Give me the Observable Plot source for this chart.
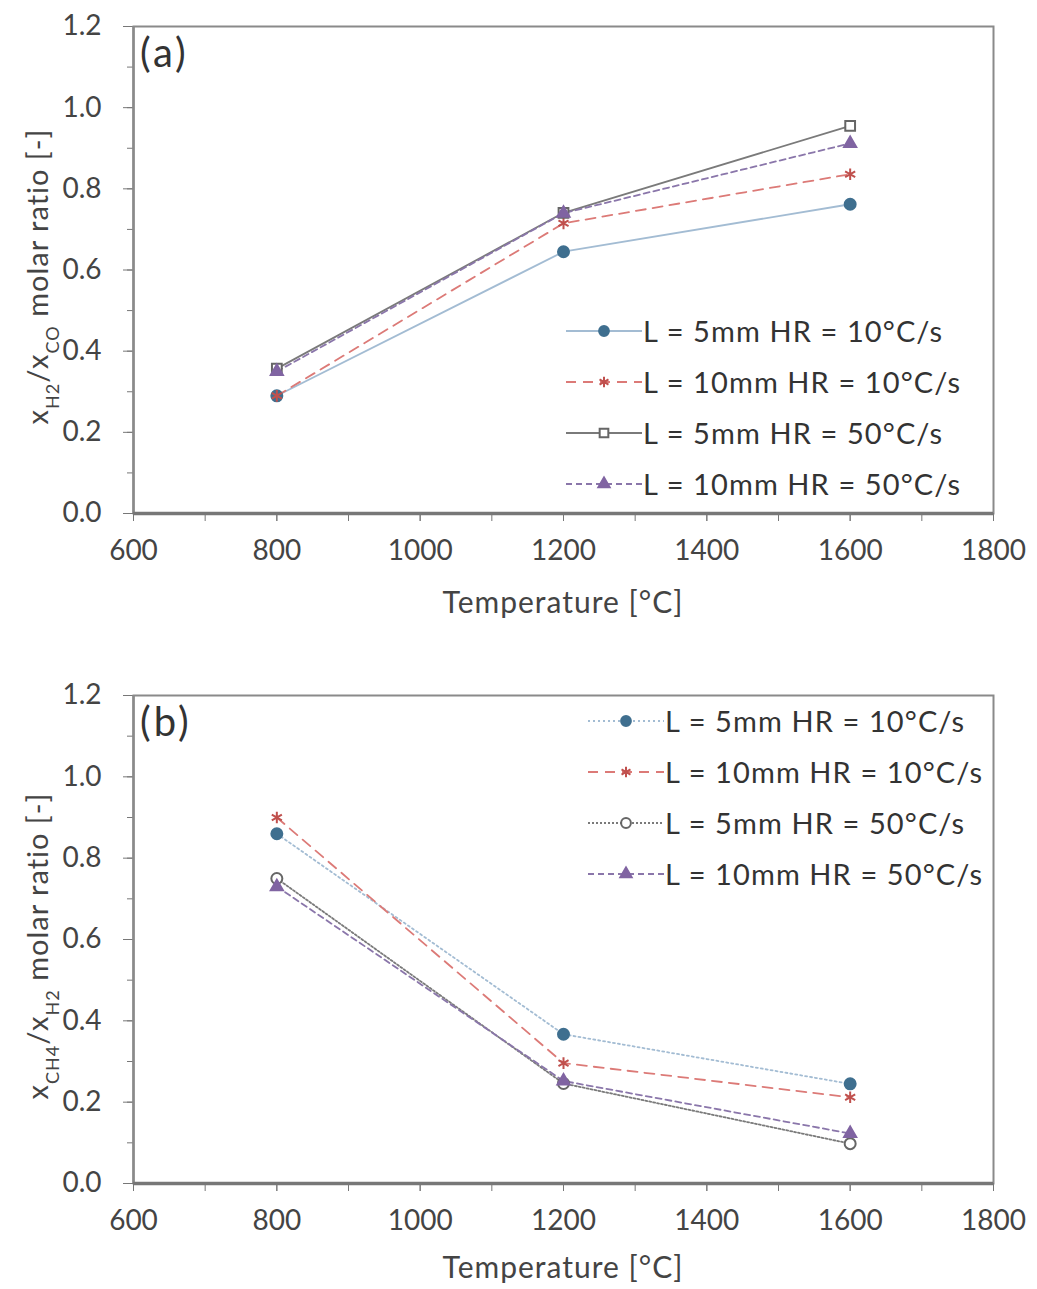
<!DOCTYPE html>
<html><head><meta charset="utf-8">
<script src="https://cdn.jsdelivr.net/npm/d3@7"></script>
<script src="https://cdn.jsdelivr.net/npm/@observablehq/plot@0.6"></script>
<style>
body{margin:0;background:#fff;font-family:Lato,"Open Sans",sans-serif;}
.panel{position:relative;width:1037px;}
.legend{position:absolute;font-size:29px;letter-spacing:1.1px;color:#333;}
.legend .row{display:flex;align-items:center;height:51px;white-space:nowrap;}
.legend svg{display:block;}
.plabel{position:absolute;font-size:40px;letter-spacing:3px;color:#333;}
</style></head>
<body><div id="root"></div>
<script>
// ---- data ----
const temperatures = [800, 1200, 1600];
const seriesNames = ["L = 5mm HR = 10°C/s", "L = 10mm HR = 10°C/s", "L = 5mm HR = 50°C/s", "L = 10mm HR = 50°C/s"];
// panel (a): xH2/xCO
const a_5mm_10 = [0.29, 0.645, 0.762];
const a_10mm_10 = [0.29, 0.715, 0.836];
const a_5mm_50 = [0.357, 0.741, 0.955];
const a_10mm_50 = [0.35, 0.74, 0.912];
// panel (b): xCH4/xH2
const b_5mm_10 = [0.86, 0.367, 0.245];
const b_10mm_10 = [0.90, 0.296, 0.212];
const b_5mm_50 = [0.75, 0.246, 0.098];
const b_10mm_50 = [0.73, 0.252, 0.123];
const xTicks = [600, 800, 1000, 1200, 1400, 1600, 1800];
const yTicks = [0.0, 0.2, 0.4, 0.6, 0.8, 1.0, 1.2];

const markerColors = ["#3f6f8f", "#c0504d", "#666666", "#8064a2"];
const lineColors = ["#a3bcd3", "#dc7a77", "#7a7a7a", "#8a76aa"];

function panel(opts){
  const {values, styles, symbols, fills, height, mTop, mBottom, ylabelParts, tag, legendPos, xlabelY} = opts;
  const div = document.createElement("div");
  div.className = "panel";
  div.style.height = height + "px";
  const marks = [];
  const xMinor = d3.range(600, 1801, 100);
  const yMinor = d3.range(0, 13).map(i => +(i * 0.1).toFixed(1));
  marks.push(Plot.frame({stroke: "#8a8a8a", strokeWidth: 2}));
  marks.push(Plot.axisX({ticks: xMinor, tickSize: 8, tickFormat: () => "", stroke: "#777"}));
  marks.push(Plot.axisX({ticks: xTicks, tickSize: 8, tickPadding: 19, tickFormat: d => String(d), fontSize: 28, fill: "#444", label: null, stroke: "#777"}));
  marks.push(Plot.axisY({ticks: yMinor, tickSize: 6, tickFormat: () => "", stroke: "#777"}));
  marks.push(Plot.axisY({ticks: yTicks, tickSize: 10, tickPadding: 22, tickFormat: d3.format(".1f"), fontSize: 28, fill: "#444", label: null, stroke: "#777"}));
  marks.push(Plot.ruleX([600], {stroke: "#8a8a8a", strokeWidth: 2.5}));
  marks.push(Plot.ruleY([0], {stroke: "#777", strokeWidth: 3.5}));
  values.forEach((vals, i) => {
    const rows = temperatures.map((t, j) => ({t, v: vals[j], s: seriesNames[i]}));
    marks.push(Plot.line(rows, {x: "t", y: "v", stroke: lineColors[i], strokeWidth: 1.8, strokeDasharray: styles[i]}));
  });
  values.forEach((vals, i) => {
    const rows = temperatures.map((t, j) => ({t, v: vals[j], s: seriesNames[i]}));
    marks.push(Plot.dot(rows, {x: "t", y: "v", symbol: () => symbols[i], r: symbols[i] === "triangle" ? 4.5 : 5.5, stroke: markerColors[i], strokeWidth: 2, fill: fills[i] ? markerColors[i] : "white"}));
  });
  const svg = Plot.plot({
    width: 1037, height, marginLeft: 133, marginRight: 44, marginTop: mTop, marginBottom: mBottom,
    style: {fontFamily: "Lato, 'Open Sans', sans-serif", fontSize: "28px", color: "#444", background: "white"},
    x: {domain: [600, 1800], label: null},
    y: {domain: [0, 1.2], label: null},
    marks
  });
  div.appendChild(svg);
  const s = d3.select(svg);
  // x label
  s.append("text").attr("x", 563).attr("y", xlabelY).attr("text-anchor", "middle")
    .attr("font-size", 30).attr("letter-spacing", 1).attr("fill", "#444").text("Temperature [°C]");
  // y label with subscripts
  const yl = s.append("text").attr("transform", `translate(48,${mTop + (height - mTop - mBottom) / 2 + 7}) rotate(-90)`)
    .attr("text-anchor", "middle").attr("font-size", 29).attr("letter-spacing", 1).attr("fill", "#444");
  ylabelParts.forEach(p => {
    const ts = yl.append("tspan").text(p.t);
    if (p.sub) ts.attr("font-size", 18).attr("baseline-shift", "sub");
  });
  // panel tag
  const tg = document.createElement("div");
  tg.className = "plabel"; tg.textContent = tag;
  tg.style.left = "140px"; tg.style.top = (mTop + 2) + "px";
  div.appendChild(tg);
  // legend
  const lg = document.createElement("div");
  lg.className = "legend";
  lg.style.left = legendPos[0] + "px"; lg.style.top = legendPos[1] + "px";
  seriesNames.forEach((name, i) => {
    const row = document.createElement("div"); row.className = "row";
    const ls = d3.create("svg").attr("width", 76).attr("height", 20);
    ls.append("line").attr("x1", 0).attr("x2", 76).attr("y1", 10).attr("y2", 10)
      .attr("stroke", lineColors[i]).attr("stroke-width", 2).attr("stroke-dasharray", styles[i] || null);
    const sym = d3.symbol(symbols[i] === "circle" ? d3.symbolCircle : symbols[i] === "square" ? d3.symbolSquare : symbols[i] === "triangle" ? d3.symbolTriangle : d3.symbolAsterisk, symbols[i] === "triangle" ? 55 : 75);
    ls.append("path").attr("d", sym()).attr("transform", "translate(38,10)")
      .attr("stroke", markerColors[i]).attr("stroke-width", 2).attr("fill", fills[i] ? markerColors[i] : "white");
    row.appendChild(ls.node());
    const tx = document.createElement("span"); tx.textContent = name; tx.style.marginLeft = "1px";
    row.appendChild(tx);
    lg.appendChild(row);
  });
  div.appendChild(lg);
  return div;
}

const root = document.getElementById("root");
root.appendChild(panel({
  values: [a_5mm_10, a_10mm_10, a_5mm_50, a_10mm_50],
  styles: [null, "10,7", null, "6,4"],
  symbols: ["circle", "asterisk", "square", "triangle"],
  fills: [true, true, false, true],
  height: 669, mTop: 26, mBottom: 156,
  ylabelParts: [{t: "x"}, {t: "H2", sub: true}, {t: "/x"}, {t: "CO", sub: true}, {t: " molar ratio [-]"}],
  tag: "(a)", legendPos: [566, 305], xlabelY: 613
}));
root.appendChild(panel({
  values: [b_5mm_10, b_10mm_10, b_5mm_50, b_10mm_50],
  styles: ["2,3", "10,7", "2,2", "6,4"],
  symbols: ["circle", "asterisk", "circle", "triangle"],
  fills: [true, true, false, true],
  height: 620, mTop: 26, mBottom: 106,
  ylabelParts: [{t: "x"}, {t: "CH4", sub: true}, {t: "/x"}, {t: "H2", sub: true}, {t: " molar ratio [-]"}],
  tag: "(b)", legendPos: [588, 26], xlabelY: 609
}));
</script></body></html>
